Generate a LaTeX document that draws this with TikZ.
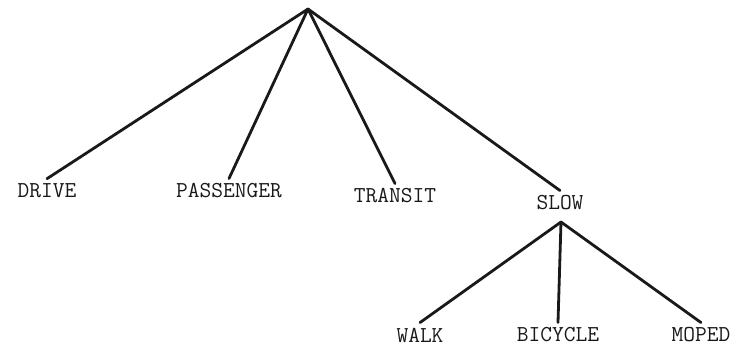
\documentclass[tikz,border=0pt]{standalone}
\usepackage{tikz}
\usetikzlibrary{positioning,calc}
\tikzset{
  mode/.style={font=\ttfamily\fontsize{22.8}{25}\selectfont,inner sep=5pt,text=black!90},
  branch/.style={line width=2.8pt,color=black!90,line cap=round},
}
\begin{document}
\begin{tikzpicture}[x=1pt,y=-1pt]
    \useasboundingbox (0,0) rectangle (734,349);
    % top level
    \coordinate (root) at (308,9);
    \node[mode] (drive) at (47,191) {DRIVE};
    \node[mode] (passenger) at (229,191) {PASSENGER};
    \node[mode] (transit) at (395,196) {TRANSIT};
    \node[mode] (slow) at (560,203) {SLOW};
    % slow modes
    \coordinate (slowtop) at (561,222);
    \node[mode] (walk) at (420,335) {WALK};
    \node[mode] (bicycle) at (558,335) {BICYCLE};
    \node[mode] (moped) at (701,335) {MOPED};
    \foreach \leaf in {drive,passenger,transit,slow}
      \draw[branch] (root) -- (\leaf.north);
    \foreach \leaf in {walk,bicycle,moped}
      \draw[branch] (slowtop) -- (\leaf.north);
  \end{tikzpicture}
\end{document}
